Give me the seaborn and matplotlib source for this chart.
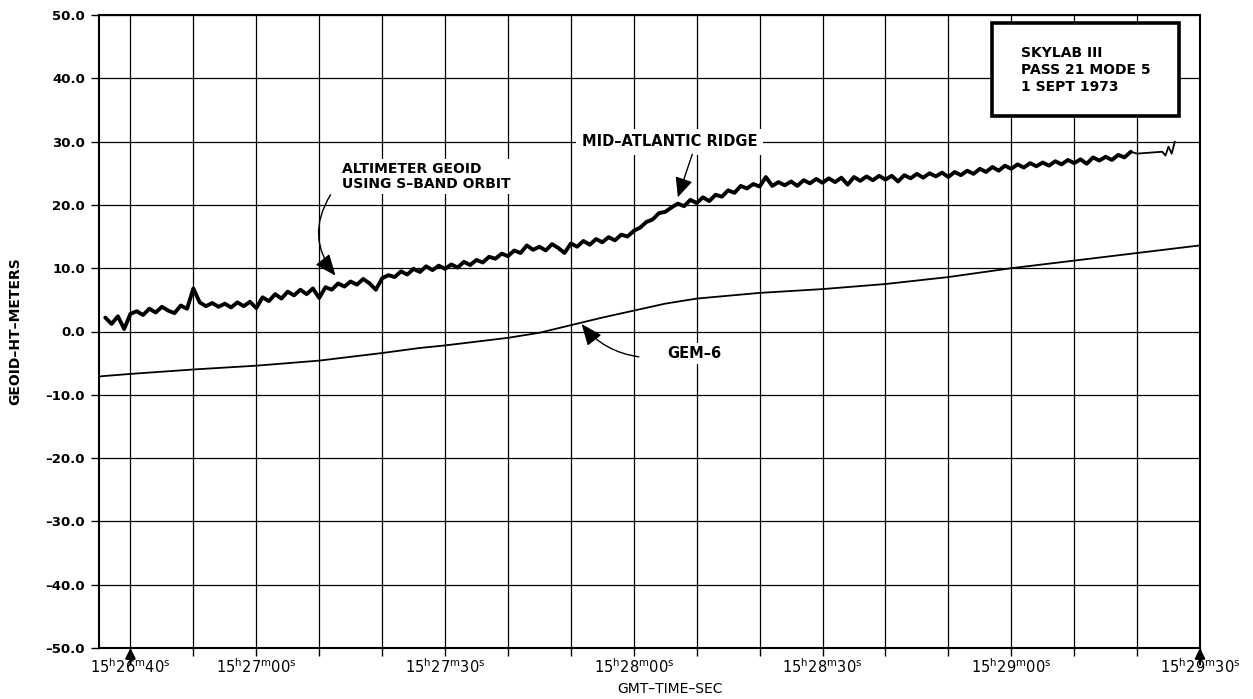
import matplotlib
matplotlib.use("Agg")
import matplotlib.pyplot as plt
import seaborn as sns
from matplotlib.patches import Rectangle
from matplotlib.ticker import FixedLocator, FixedFormatter

# ---- data (time = seconds after 15h26m00s GMT) ----
alt_t = list(range(36, 200))
alt_v = [
    2.2, 1.2, 2.4, 0.4, 2.8, 3.2, 2.6, 3.6, 3.0, 3.9,
    3.3, 2.9, 4.1, 3.6, 6.8, 4.6, 4.0, 4.5, 3.9, 4.4,
    3.8, 4.6, 4.0, 4.7, 3.7, 5.4, 4.8, 5.9, 5.2, 6.3,
    5.7, 6.6, 5.9, 6.8, 5.3, 7.0, 6.6, 7.6, 7.1, 7.9,
    7.4, 8.3, 7.6, 6.6, 8.4, 8.9, 8.6, 9.5, 9.0, 9.9,
    9.4, 10.3, 9.7, 10.4, 9.9, 10.6, 10.1, 11.0, 10.5, 11.3,
    10.9, 11.8, 11.5, 12.3, 11.9, 12.8, 12.4, 13.6, 12.9, 13.4,
    12.8, 13.8, 13.2, 12.4, 13.9, 13.4, 14.3, 13.7, 14.6, 14.1,
    14.9, 14.4, 15.3, 15.0, 15.9, 16.4, 17.3, 17.7, 18.7, 18.9,
    19.6, 20.2, 19.8, 20.8, 20.3, 21.2, 20.6, 21.6, 21.3, 22.3,
    21.9, 23.0, 22.6, 23.3, 22.9, 24.4, 23.0, 23.6, 23.1, 23.7,
    23.0, 23.9, 23.4, 24.1, 23.5, 24.2, 23.6, 24.3, 23.2, 24.4,
    23.8, 24.5, 23.9, 24.6, 24.0, 24.6, 23.7, 24.7, 24.2, 24.9,
    24.3, 25.0, 24.5, 25.1, 24.4, 25.2, 24.7, 25.4, 24.9, 25.7,
    25.2, 26.0, 25.4, 26.2, 25.7, 26.4, 25.9, 26.6, 26.1, 26.7,
    26.2, 26.9, 26.4, 27.1, 26.6, 27.2, 26.5, 27.5, 27.0, 27.6,
    27.1, 27.9, 27.5, 28.4,
]
tail_t = [199, 200, 204, 204.5, 205, 205.5, 206]
tail_v = [28.4, 28.1, 28.4, 27.8, 29.2, 28.1, 30.0]

gem_t = [35, 40, 50, 60, 70, 80, 86, 90, 95, 100, 105, 110, 115, 120,
         125, 130, 140, 150, 160, 170, 180, 190, 200, 210]
gem_v = [-7.1, -6.7, -6.0, -5.4, -4.6, -3.4, -2.6, -2.2, -1.6, -1.0, -0.2,
         1.0, 2.2, 3.3, 4.4, 5.2, 6.1, 6.7, 7.5, 8.6, 10.0, 11.2, 12.4, 13.6]

xtick_pos = [40, 60, 90, 120, 150, 180, 210]
xtick_labels = [r"$\mathregular{15^{h}26^{m}40^{s}}$",
                r"$\mathregular{15^{h}27^{m}00^{s}}$",
                r"$\mathregular{15^{h}27^{m}30^{s}}$",
                r"$\mathregular{15^{h}28^{m}00^{s}}$",
                r"$\mathregular{15^{h}28^{m}30^{s}}$",
                r"$\mathregular{15^{h}29^{m}00^{s}}$",
                r"$\mathregular{15^{h}29^{m}30^{s}}$"]
xgrid_pos = [40, 50, 60, 70, 80, 90, 100, 110, 120, 130, 140, 150, 160,
             170, 180, 190, 200]
ytick_pos = [-50, -40, -30, -20, -10, 0, 10, 20, 30, 40, 50]
ytick_labels = ["\u201350.0", "\u201340.0", "\u201330.0", "\u201320.0", "\u201310.0",
                "0.0", "10.0", "20.0", "30.0", "40.0", "50.0"]

# ---- style ----
sns.set_theme(style="white")
plt.rcParams["font.family"] = ["DejaVu Sans"]
plt.rcParams["mathtext.default"] = "regular"
for k in ("text.color", "axes.labelcolor", "xtick.color", "ytick.color"):
    plt.rcParams[k] = "black"

fig = plt.figure(figsize=(12.53, 6.99), dpi=100)
ax = fig.add_axes([99 / 1253, 51 / 699, 1101 / 1253, 633 / 699])

sns.lineplot(x=alt_t, y=alt_v, ax=ax, color="black", lw=2.8, zorder=4,
             estimator=None)
sns.lineplot(x=tail_t, y=tail_v, ax=ax, color="black", lw=1.3, zorder=4,
             estimator=None)
sns.lineplot(x=gem_t, y=gem_v, ax=ax, color="black", lw=1.3, zorder=4,
             estimator=None)

ax.set_xlim(35, 210)
ax.set_ylim(-50, 50)

ax.xaxis.set_major_locator(FixedLocator(xtick_pos))
ax.xaxis.set_major_formatter(FixedFormatter(xtick_labels))
ax.xaxis.set_minor_locator(FixedLocator(xgrid_pos))
ax.yaxis.set_major_locator(FixedLocator(ytick_pos))
ax.yaxis.set_major_formatter(FixedFormatter(ytick_labels))

ax.grid(True, which="both", color="black", lw=0.9, zorder=1)
ax.set_axisbelow(True)
for s in ax.spines.values():
    s.set_visible(True)
    s.set_color("black")
    s.set_linewidth(1.5)

ax.tick_params(axis="both", which="both", direction="out", length=6,
               width=1.0, color="black", bottom=True, left=True)
ax.tick_params(axis="x", which="major", labelsize=10.5, pad=1,
               labelcolor="black")
ax.tick_params(axis="y", which="major", labelsize=9.5, pad=4,
               labelcolor="black")
for lab in ax.get_yticklabels():
    lab.set_fontweight("bold")

ax.set_ylabel("GEOID\u2013HT\u2013METERS", fontsize=10, fontweight="bold",
              color="black")
ax.yaxis.set_label_coords(-0.0696, 0.5)
ax.set_xlabel("GMT\u2013TIME\u2013SEC", fontsize=10, color="black")
ax.xaxis.set_label_coords(0.519, -0.053)

# arrows at the start and end times
for t in (40, 210):
    ax.annotate("", xy=(t, -50), xytext=(t, -52.6),
                arrowprops=dict(arrowstyle="-|>,head_length=0.5,head_width=0.25",
                                color="black", lw=1.6, shrinkA=0, shrinkB=0),
                annotation_clip=False, zorder=6)

# info box
ax.add_patch(Rectangle((177, 34.0), 29.6, 14.7, facecolor="white",
                       edgecolor="black", lw=2.6, zorder=5))
ax.text(181.5, 41.3, "SKYLAB III\nPASS 21 MODE 5\n1 SEPT 1973", fontsize=10,
        fontweight="bold", ha="left", va="center", linespacing=1.25, zorder=6)

bb = dict(facecolor="white", edgecolor="none", pad=2)
ax.text(73.7, 24.5, "ALTIMETER GEOID\nUSING S\u2013BAND ORBIT", fontsize=10,
        fontweight="bold", ha="left", va="center", linespacing=1.15,
        bbox=bb, zorder=5)
ax.annotate("", xy=(72.6, 8.8), xytext=(71.8, 21.6),
            arrowprops=dict(arrowstyle="-|>,head_length=1.1,head_width=0.45",
                            color="black", lw=1.0, shrinkA=0, shrinkB=0,
                            connectionstyle="arc3,rad=0.35"), zorder=6)

ax.text(111.7, 30.0, "MID\u2013ATLANTIC RIDGE", fontsize=10.5, fontweight="bold",
        ha="left", va="center", bbox=dict(facecolor="white", edgecolor="none",
                                          pad=4), zorder=5)
ax.annotate("", xy=(127.0, 21.2), xytext=(129.3, 28.0),
            arrowprops=dict(arrowstyle="-|>,head_length=1.0,head_width=0.45",
                            color="black", lw=1.0, shrinkA=0, shrinkB=0),
            zorder=6)

ax.text(125.3, -3.5, "GEM\u20136", fontsize=10.5, fontweight="bold",
        ha="left", va="center", bbox=bb, zorder=5)
ax.annotate("", xy=(111.7, 1.2), xytext=(120.8, -4.0),
            arrowprops=dict(arrowstyle="-|>,head_length=1.1,head_width=0.45",
                            color="black", lw=1.0, shrinkA=0, shrinkB=0,
                            connectionstyle="arc3,rad=-0.2"), zorder=6)

fig.savefig("out.png", dpi=100)
